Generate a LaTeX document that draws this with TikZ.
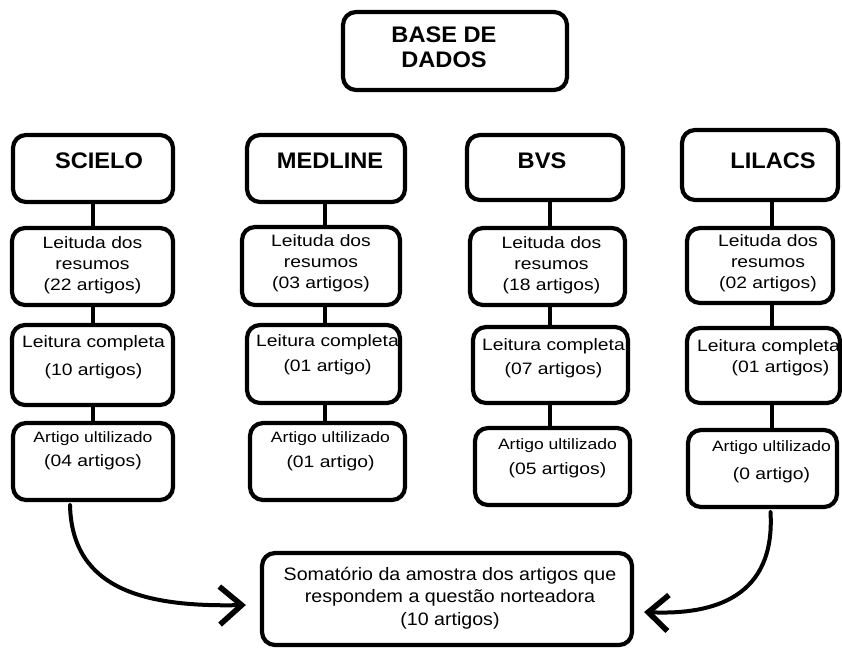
\documentclass[tikz,border=0pt]{standalone}
\usepackage{fontspec}
\setmainfont{Liberation Sans}
\newfontfamily\hdfont[FakeStretch=1.05]{Liberation Sans}
\newfontfamily\txfont[FakeStretch=1.17]{Liberation Sans}
\newfontfamily\btfont[FakeStretch=1.09]{Liberation Sans}
\usetikzlibrary{arrows.meta,calc}
% text block shifted by (#1 right, #2 up) inside its box
\newcommand\bt[3]{\raisebox{#2}[\height][\depth]{\hspace*{#1}\begin{tabular}{@{}c@{}}#3\end{tabular}\hspace*{-#1}}}
\newcommand\au{{\fontsize{15}{21}\selectfont Artigo ultilizado}}
\tikzset{
  box/.style={draw, line width=4.2pt, rounded corners=13pt, inner sep=0pt},
  hd/.style={box, font=\hdfont\bfseries\fontsize{22.5}{25}\selectfont},
  tx/.style={box, font=\txfont\fontsize{16.5}{21}\selectfont},
  bt/.style={box, font=\btfont\fontsize{18}{22.5}\selectfont},
  conn/.style={line width=3.2pt},
  curve/.style={line width=4pt, line cap=round}
}
\begin{document}
\begin{tikzpicture}[x=1pt, y=-1pt]
\useasboundingbox (0,0) rectangle (842,648);

% top
\node[hd, minimum width=224pt, minimum height=78pt] (base) at (455,51) {\bt{-11pt}{1pt}{BASE DE\\DADOS}};

% column x positions
\coordinate (cS) at (93,0);
\coordinate (cM) at (325,0);
\coordinate (cB) at (550,0);
\coordinate (cL) at (772,0);

% SCIELO
\node[hd, minimum width=160pt, minimum height=67pt] (S) at (93,168.5) {\bt{6pt}{5pt}{SCIELO}};
\node[tx, minimum width=161pt, minimum height=77pt] (Sres) at (92.5,266.5) {\bt{0pt}{1pt}{Leituda dos\\resumos\\(22 artigos)}};
\node[tx, minimum width=161pt, minimum height=80pt] (Scomp) at (92.5,365) {\bt{1pt}{8pt}{Leitura completa\\[7pt](10 artigos)}};
\node[tx, minimum width=160pt, minimum height=77pt] (Sart) at (93,461.5) {\bt{0pt}{11pt}{\au\\[3pt](04 artigos)}};

% MEDLINE
\node[hd, minimum width=158pt, minimum height=67pt] (M) at (326,168.5) {\bt{4pt}{5pt}{MEDLINE}};
\node[tx, minimum width=158pt, minimum height=78pt] (Mres) at (321,266) {\bt{0pt}{3pt}{Leituda dos\\resumos\\(03 artigos)}};
\node[tx, minimum width=153pt, minimum height=78pt] (Mcomp) at (323.5,364) {\bt{4pt}{9pt}{Leitura completa\\[4pt](01 artigo)}};
\node[tx, minimum width=155pt, minimum height=77pt] (Mart) at (327.5,461.5) {\bt{3pt}{11pt}{\au\\[4pt](01 artigo)}};

% BVS
\node[hd, minimum width=156pt, minimum height=65pt] (B) at (545,167.5) {\bt{-3pt}{4pt}{BVS}};
\node[tx, minimum width=155pt, minimum height=77pt] (Bres) at (547.5,266.5) {\bt{4pt}{1pt}{Leituda dos\\resumos\\(18 artigos)}};
\node[tx, minimum width=155pt, minimum height=76pt] (Bcomp) at (550.5,365) {\bt{3pt}{7pt}{Leitura completa\\[3pt](07 artigos)}};
\node[tx, minimum width=155pt, minimum height=77pt] (Bart) at (552.5,466.5) {\bt{5pt}{9pt}{\au\\[4pt](05 artigos)}};

% LILACS
\node[hd, minimum width=156pt, minimum height=70pt] (L) at (760,165) {\bt{13pt}{2pt}{LILACS}};
\node[tx, minimum width=146pt, minimum height=75pt] (Lres) at (760,265.5) {\bt{8pt}{2pt}{Leituda dos\\resumos\\(02 artigos)}};
\node[tx, minimum width=153pt, minimum height=75pt] (Lcomp) at (763.5,365.5) {\bt{5pt}{8pt}{Leitura completa\\\hspace*{24pt}(01 artigos)}};
\node[tx, minimum width=149pt, minimum height=77pt] (Lart) at (762.5,468.5) {\bt{9pt}{7pt}{\au\\[7pt](0 artigo)}};

% bottom
\node[bt, minimum width=370pt, minimum height=92pt] (bot) at (447,599) {\bt{3pt}{1pt}{Somatório da amostra dos artigos que\\respondem a questão norteadora\\(10 artigos)}};

% vertical connectors
\foreach \c/\a/\b/\d/\e in {cS/S/Sres/Scomp/Sart, cM/M/Mres/Mcomp/Mart, cB/B/Bres/Bcomp/Bart, cL/L/Lres/Lcomp/Lart}{
  \draw[conn] (\a.south -| \c) -- (\b.north -| \c);
  \draw[conn] (\b.south -| \c) -- (\d.north -| \c);
  \draw[conn] (\d.south -| \c) -- (\e.north -| \c);
}

% curved arrows to the bottom box
\draw[curve, -{Straight Barb[length=22pt, width=38pt, line width=5.5pt]}]
  ($(Sart.south)+(-23,3)$) .. controls +(2,85) and +(-100,2) .. ($(bot.west)+(-14,6)$);
\draw[curve, -{Straight Barb[length=20pt, width=36pt, line width=5.5pt]}]
  ($(Lart.south)+(8,3)$) .. controls +(5,85) and +(70,3) .. ($(bot.east)+(10,13)$);
\end{tikzpicture}
\end{document}
